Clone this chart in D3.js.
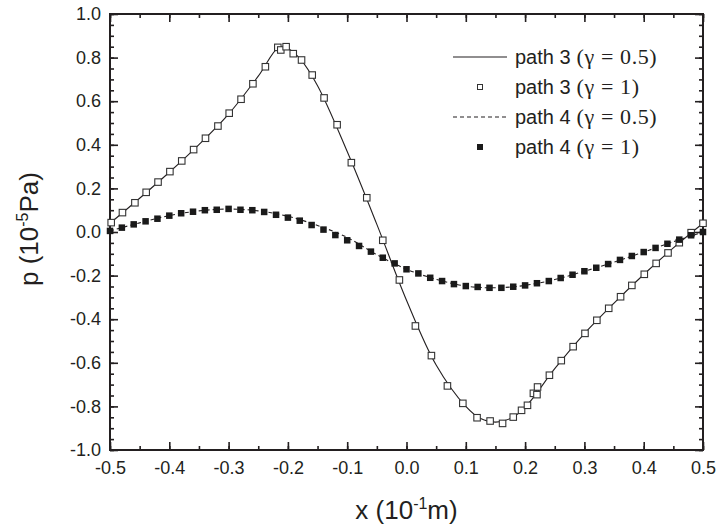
<!DOCTYPE html>
<html>
<head>
<meta charset="utf-8">
<script src="https://cdn.jsdelivr.net/npm/d3@7"></script>
<style>
  body { margin: 0; background: #fff; }
  svg { display: block; font-family: "Liberation Sans", Arial, sans-serif; }
</style>
</head>
<body>
<script>
// path 3 (gamma = 1): open squares, [x, p]
const path3Pts = [
  [-0.498, 0.043], [-0.479, 0.089], [-0.458, 0.134], [-0.439, 0.182], [-0.419, 0.229],
  [-0.399, 0.277], [-0.379, 0.326], [-0.359, 0.378], [-0.339, 0.430], [-0.318, 0.486],
  [-0.299, 0.545], [-0.279, 0.609], [-0.259, 0.680], [-0.238, 0.758], [-0.217, 0.847],
  [-0.212, 0.835], [-0.203, 0.850], [-0.191, 0.818], [-0.177, 0.789], [-0.159, 0.720],
  [-0.139, 0.615], [-0.117, 0.492], [-0.093, 0.318], [-0.067, 0.157], [-0.040, -0.038],
  [-0.012, -0.220], [0.015, -0.431], [0.042, -0.567], [0.069, -0.706], [0.095, -0.786],
  [0.119, -0.852], [0.141, -0.867], [0.162, -0.878], [0.180, -0.849], [0.194, -0.818],
  [0.204, -0.795], [0.214, -0.740], [0.220, -0.746], [0.221, -0.711], [0.241, -0.657],
  [0.261, -0.590], [0.281, -0.526], [0.301, -0.465], [0.321, -0.405], [0.341, -0.350],
  [0.361, -0.297], [0.380, -0.245], [0.401, -0.194], [0.421, -0.144], [0.441, -0.096],
  [0.460, -0.049], [0.480, -0.003], [0.500, 0.040]
]

// path 3 (gamma = 0.5): solid line
const path3Line = [
  [-0.5, 0.040], [-0.45, 0.155], [-0.4, 0.274], [-0.35, 0.401], [-0.3, 0.541],
  [-0.25, 0.715], [-0.215, 0.848], [-0.2, 0.842], [-0.18, 0.796], [-0.15, 0.671],
  [-0.1, 0.369], [-0.05, 0.035], [0.0, -0.313], [0.05, -0.610], [0.1, -0.800],
  [0.125, -0.856], [0.15, -0.872], [0.175, -0.856], [0.2, -0.804], [0.25, -0.627],
  [0.3, -0.466], [0.35, -0.326], [0.4, -0.195], [0.45, -0.073], [0.5, 0.040]
]

// path 4 (gamma = 1): filled squares, x = -0.5 .. 0.5 step 0.02
const path4X = d3.range(51).map(i => -0.5 + i * 0.02)
const path4Y = [
  0.005, 0.020, 0.035, 0.049, 0.061, 0.075, 0.086, 0.093, 0.100, 0.102,
  0.106, 0.102, 0.100, 0.092, 0.079, 0.066, 0.052, 0.032, 0.011, -0.014,
  -0.038, -0.064, -0.090, -0.118, -0.144, -0.171, -0.190, -0.210, -0.225, -0.239,
  -0.248, -0.252, -0.256, -0.256, -0.251, -0.245, -0.235, -0.225, -0.211, -0.196,
  -0.180, -0.164, -0.147, -0.128, -0.110, -0.092, -0.073, -0.054, -0.035, -0.015,
  0.000
]

// path 4 (gamma = 0.5): dashed line
const path4LineX = [-0.5, -0.45, -0.4, -0.35, -0.3, -0.25, -0.2, -0.15, -0.1, -0.05,
  0.0, 0.05, 0.1, 0.15, 0.2, 0.25, 0.3, 0.35, 0.4, 0.45, 0.5]
const path4LineY = [0.005, 0.042, 0.075, 0.097, 0.105, 0.097, 0.072, 0.030, -0.025, -0.104,
  -0.171, -0.217, -0.248, -0.256, -0.245, -0.218, -0.180, -0.138, -0.092, -0.045, 0.000]

const xTicks = [-0.5, -0.4, -0.3, -0.2, -0.1, 0.0, 0.1, 0.2, 0.3, 0.4, 0.5]
const yTicks = [-1.0, -0.8, -0.6, -0.4, -0.2, 0.0, 0.2, 0.4, 0.6, 0.8, 1.0]
const xMinor = d3.range(21).map(i => -0.5 + i * 0.05)
const yMinor = d3.range(41).map(i => -1 + i * 0.05)

const legendItems = [
  { name: 'path 3', gamma: '0.5', type: 'solid' },
  { name: 'path 3', gamma: '1', type: 'open' },
  { name: 'path 4', gamma: '0.5', type: 'dash' },
  { name: 'path 4', gamma: '1', type: 'filled' }
]

const W = 717, H = 530
const margin = { left: 110, top: 14, right: 14, bottom: 80 }
const w = 703 - margin.left
const h = 450 - margin.top
const ink = '#231f20'

const svg = d3.select('body').append('svg')
  .attr('width', W)
  .attr('height', H)

const g = svg.append('g').attr('transform', `translate(${margin.left},${margin.top})`)

const x = d3.scaleLinear().domain([-0.5, 0.5]).range([0, w])
const y = d3.scaleLinear().domain([-1, 1]).range([h, 0])
const fmt = d => d.toFixed(1)

// axes, ticks pointing inward on all sides
function styleAxis (sel) {
  sel.select('.domain').remove()
  sel.selectAll('line').attr('stroke', ink).attr('stroke-width', 1.6)
  sel.selectAll('text')
    .attr('fill', ink)
    .style('font-size', '18px')
    .style('font-family', '"Liberation Sans", Arial, sans-serif')
}

g.append('g').attr('transform', `translate(0,${h})`)
  .call(d3.axisBottom(x).tickValues(xMinor).tickSize(-4).tickFormat(''))
  .call(styleAxis)
g.append('g').attr('transform', `translate(0,${h})`)
  .call(d3.axisBottom(x).tickValues(xTicks).tickSize(-8).tickPadding(11).tickFormat(fmt))
  .call(styleAxis)
g.append('g')
  .call(d3.axisTop(x).tickValues(xMinor).tickSize(-4).tickFormat(''))
  .call(styleAxis)
g.append('g')
  .call(d3.axisTop(x).tickValues(xTicks).tickSize(-8).tickFormat(''))
  .call(styleAxis)

g.append('g')
  .call(d3.axisLeft(y).tickValues(yMinor).tickSize(-4).tickFormat(''))
  .call(styleAxis)
g.append('g')
  .call(d3.axisLeft(y).tickValues(yTicks).tickSize(-8).tickPadding(9).tickFormat(fmt))
  .call(styleAxis)
g.append('g').attr('transform', `translate(${w},0)`)
  .call(d3.axisRight(y).tickValues(yMinor).tickSize(-4).tickFormat(''))
  .call(styleAxis)
g.append('g').attr('transform', `translate(${w},0)`)
  .call(d3.axisRight(y).tickValues(yTicks).tickSize(-8).tickFormat(''))
  .call(styleAxis)

g.append('rect')
  .attr('width', w)
  .attr('height', h)
  .attr('fill', 'none')
  .attr('stroke', ink)
  .attr('stroke-width', 2)

// lines
const line = d3.line()
  .x(d => x(d[0]))
  .y(d => y(d[1]))
  .curve(d3.curveCatmullRom)

g.append('path')
  .datum(path3Line)
  .attr('d', line)
  .attr('fill', 'none')
  .attr('stroke', ink)
  .attr('stroke-width', 1.1)

g.append('path')
  .datum(d3.zip(path4LineX, path4LineY))
  .attr('d', line)
  .attr('fill', 'none')
  .attr('stroke', ink)
  .attr('stroke-width', 1.1)
  .attr('stroke-dasharray', '4,3')

// markers
const s = 6.5
g.selectAll('.open')
  .data(path3Pts)
  .enter()
  .append('rect')
  .attr('class', 'open')
  .attr('x', d => x(d[0]) - s / 2)
  .attr('y', d => y(d[1]) - s / 2)
  .attr('width', s)
  .attr('height', s)
  .attr('fill', '#fff')
  .attr('stroke', '#333')
  .attr('stroke-width', 1.1)

g.selectAll('.filled')
  .data(d3.zip(path4X, path4Y))
  .enter()
  .append('rect')
  .attr('class', 'filled')
  .attr('x', d => x(d[0]) - s / 2)
  .attr('y', d => y(d[1]) - s / 2)
  .attr('width', s)
  .attr('height', s)
  .attr('fill', '#1a1a1a')

// legend
const legend = svg.append('g')
const rows = legend.selectAll('g')
  .data(legendItems)
  .enter()
  .append('g')
  .attr('transform', (d, i) => `translate(453,${57 + i * 30})`)

rows.each(function (d) {
  const r = d3.select(this)
  if (d.type === 'solid' || d.type === 'dash') {
    r.append('line')
      .attr('x1', 0).attr('x2', 54)
      .attr('stroke', ink)
      .attr('stroke-width', 1.1)
      .attr('stroke-dasharray', d.type === 'dash' ? '4,3' : null)
  } else {
    const k = d.type === 'open' ? 5 : 6
    r.append('rect')
      .attr('x', 27 - k / 2).attr('y', -k / 2)
      .attr('width', k).attr('height', k)
      .attr('fill', d.type === 'open' ? '#fff' : '#1a1a1a')
      .attr('stroke', d.type === 'open' ? '#333' : 'none')
      .attr('stroke-width', 1)
  }
  const t = r.append('text')
    .attr('x', 62)
    .attr('y', 7)
    .attr('fill', ink)
    .style('font-size', '20px')
  t.append('tspan').text(d.name)
  t.append('tspan')
    .attr('dx', 6)
    .style('font-family', '"Liberation Serif", "Times New Roman", serif')
    .style('font-size', '22px')
    .style('letter-spacing', '0.6px')
    .text(`(\u03b3 = ${d.gamma})`)
})

// axis titles
const xt = svg.append('text')
  .attr('x', margin.left + w / 2)
  .attr('y', 519)
  .attr('text-anchor', 'middle')
  .attr('fill', ink)
  .style('font-size', '26px')
xt.append('tspan').text('x (10')
xt.append('tspan').attr('dy', -10).style('font-size', '16px').text('-1')
xt.append('tspan').attr('dy', 10).text('m)')

const yt = svg.append('text')
  .attr('transform', `translate(38,${margin.top + h / 2 - 3}) rotate(-90)`)
  .attr('text-anchor', 'middle')
  .attr('fill', ink)
  .style('font-size', '26px')
yt.append('tspan').text('p (10')
yt.append('tspan').attr('dy', -10).style('font-size', '16px').text('-5')
yt.append('tspan').attr('dy', 10).text('Pa)')
</script>
</body>
</html>
